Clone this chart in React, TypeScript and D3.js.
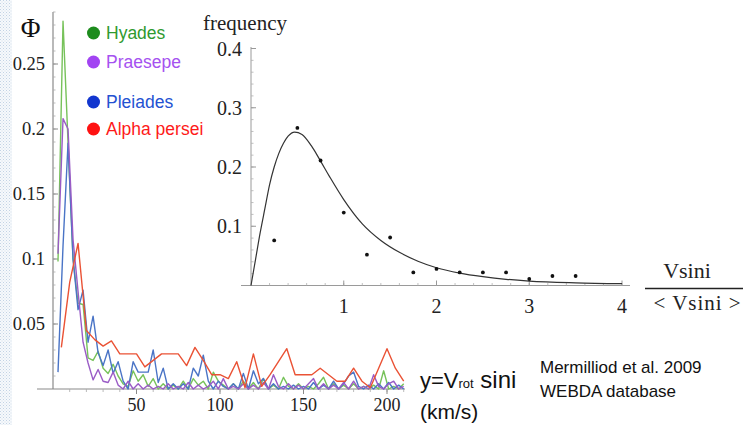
import React from "react";
import * as d3 from "d3";

// ---------- Main chart data (Φ vs v sin i, km/s) ----------
const BIN3_STEP = 3; // bin spacing for Hyades / Praesepe / Pleiades
const BIN5_STEP = 5; // bin spacing for Alpha persei

const hyades = [
  0.098, 0.283, 0.19, 0.1, 0.066, 0.065, 0.024, 0.022, 0.029, 0.016,
  0.012, 0.019, 0.01, 0.004, 0.002, 0.014, 0.006, 0.011, 0.002, 0.008,
  0.0, 0.004, 0.0, 0.003, 0.0, 0.006, 0.0, 0.008, 0.003, 0.006,
  0.0, 0.013, 0.006, 0.003, 0.0, 0.004, 0.0, 0.006, 0.0, 0.005,
  0.0, 0.008, 0.0, 0.003, 0.0, 0.009, 0.002, 0.0, 0.004, 0.0,
  0.002, 0.0, 0.004, 0.009, 0.0, 0.004, 0.0, 0.003, 0.0, 0.004,
  0.0, 0.002, 0.0, 0.003, 0.0, 0.014, 0.0, 0.002, 0.0, 0.004,
];
const praesepe = [
  0.104, 0.208, 0.2, 0.115, 0.075, 0.036, 0.02, 0.007, 0.015, 0.006,
  0.005, 0.013, 0.003, 0.0, 0.006, 0.0, 0.004, 0.0, 0.003, 0.0,
  0.002, 0.0, 0.004, 0.0, 0.002, 0.0, 0.005, 0.0, 0.003, 0.0,
  0.002, 0.006, 0.0, 0.008, 0.0, 0.002, 0.0, 0.004, 0.0, 0.003,
  0.0, 0.005, 0.0, 0.011, 0.002, 0.0, 0.004, 0.0, 0.003, 0.0,
  0.004, 0.008, 0.0, 0.004, 0.0, 0.003, 0.0, 0.005, 0.0, 0.006,
  0.0, 0.002, 0.0, 0.011, 0.002, 0.0, 0.004, 0.006, 0.0, 0.002,
];
const pleiades = [
  0.013, 0.11, 0.189, 0.1, 0.061, 0.076, 0.036, 0.056, 0.028, 0.018,
  0.03, 0.012, 0.021, 0.006, 0.0, 0.021, 0.013, 0.013, 0.013, 0.03,
  0.005, 0.016, 0.0, 0.004, 0.0, 0.004, 0.0, 0.016, 0.01, 0.026,
  0.006, 0.0, 0.006, 0.002, 0.0, 0.004, 0.0, 0.012, 0.0, 0.014,
  0.004, 0.008, 0.0, 0.004, 0.0, 0.002, 0.0, 0.003, 0.0, 0.002,
  0.0, 0.005, 0.0, 0.003, 0.0, 0.006, 0.0, 0.004, 0.01, 0.013,
  0.002, 0.0, 0.003, 0.0, 0.004, 0.0, 0.005, 0.0, 0.003, 0.0,
];
const alphaPersei = [
  0.032, 0.082, 0.112, 0.045, 0.038, 0.033, 0.037, 0.027, 0.027, 0.027,
  0.017, 0.022, 0.027, 0.027, 0.027, 0.018, 0.032, 0.022, 0.011, 0.011,
  0.008, 0.021, 0.001, 0.027, 0.002, 0.011, 0.021, 0.031, 0.011, 0.011,
  0.011, 0.016, 0.011, 0.006, 0.006, 0.016, 0.006, 0.001, 0.016, 0.031,
  0.016, 0.006,
];

const mainYTicks = [0.05, 0.1, 0.15, 0.2, 0.25];
const mainXTicks = [50, 100, 150, 200];

const legendNames = ["Hyades", "Praesepe", "Pleiades", "Alpha persei"];
const legendDotColors = ["#1d8c1d", "#a244f2", "#1236cf", "#fe1212"];
const legendTextColors = ["#2f9a2f", "#a552f0", "#2452d2", "#fe1a1a"];

// ---------- Inset data (frequency vs Vsini/<Vsini>) ----------
const insetDotX = [0.25, 0.5, 0.75, 1.0, 1.25, 1.5, 1.75, 2.0, 2.25, 2.5, 2.75, 3.0, 3.25, 3.5];
const insetDotY = [0.076, 0.266, 0.211, 0.123, 0.052, 0.081, 0.022, 0.028, 0.022, 0.022, 0.022, 0.011, 0.016, 0.016];
const curveX = [0, 0.05, 0.1, 0.15, 0.2, 0.25, 0.3, 0.35, 0.4, 0.47, 0.55, 0.65, 0.75, 0.85, 1.0, 1.2, 1.4, 1.6, 1.8, 2.0, 2.25, 2.5, 2.75, 3.0, 3.5, 4.0];
const curveY = [0, 0.045, 0.09, 0.13, 0.17, 0.2, 0.223, 0.24, 0.252, 0.259, 0.255, 0.236, 0.21, 0.183, 0.145, 0.104, 0.076, 0.056, 0.041, 0.03, 0.021, 0.015, 0.0105, 0.0075, 0.0045, 0.003];
const insetYTicks = [0.1, 0.2, 0.3, 0.4];
const insetXTicks = [1, 2, 3, 4];

export default function App() {
  const W = 754, H = 425;
  // main scales
  const x = d3.scaleLinear().domain([0, 200]).range([53, 387]);
  const y = d3.scaleLinear().domain([0, 0.25]).range([389, 64]);
  // inset scales
  const ix = d3.scaleLinear().domain([0, 4]).range([251, 622]);
  const iy = d3.scaleLinear().domain([0, 0.4]).range([285.5, 48.5]);

  const line = d3.line<[number, number]>().x((d) => x(d[0])).y((d) => y(d[1]));
  const mk3 = (arr: number[]) => arr.map((v, i) => [(i + 1) * BIN3_STEP, v] as [number, number]);
  const mk5 = (arr: number[]) => arr.map((v, i) => [(i + 1) * BIN5_STEP, v] as [number, number]);

  const series = [
    { data: mk3(hyades), color: "#77c25a" },
    { data: mk3(pleiades), color: "#4a74c6" },
    { data: mk3(praesepe), color: "#9a5cc6" },
    { data: mk5(alphaPersei), color: "#ea5235" },
  ];

  const mainMinorY = d3.range(0.01, 0.2901, 0.01);
  const mainMinorX = d3.range(10, 211, 10);
  const insetMinorY = d3.range(0.02, 0.401, 0.02);
  const insetMinorX = d3.range(0.2, 4.01, 0.2);

  const curveLine = d3
    .line<number>()
    .x((_, i) => ix(curveX[i]))
    .y((d) => iy(d))
    .curve(d3.curveMonotoneX);

  const axisColor = "#8a8a8a";
  const serif = "'Liberation Serif', 'DejaVu Serif', serif";
  const sans = "'Liberation Sans', Arial, sans-serif";

  return (
    <svg
      width={W}
      height={H}
      style={{ position: "absolute", left: 0, top: 0, background: "#fff" }}
    >
      <defs>
        <pattern id="chk" width="3" height="3" patternUnits="userSpaceOnUse">
          <rect width="3" height="3" fill="#f6f9fc" />
          <rect width="1" height="1" fill="#c3d3e4" />
          <rect x="1.5" y="1.5" width="1" height="1" fill="#d2dde9" />
        </pattern>
      </defs>
      <rect x={0} y={0} width={W} height={H} fill="#fff" />
      <rect x={0} y={0} width={12} height={H} fill="url(#chk)" />

      {/* ---------- Main axes ---------- */}
      <line x1={x(0)} x2={x(0)} y1={12} y2={y(0)} stroke={axisColor} strokeWidth={1.2} />
      <line x1={37} x2={405} y1={y(0)} y2={y(0)} stroke={axisColor} strokeWidth={1.2} />
      {mainMinorY.map((t, i) => (
        <line key={"my" + i} x1={x(0)} x2={x(0) + 2.5} y1={y(t)} y2={y(t)} stroke="#aaa" strokeWidth={0.8} />
      ))}
      {mainYTicks.map((t) => (
        <line key={"mY" + t} x1={x(0)} x2={x(0) + 5} y1={y(t)} y2={y(t)} stroke={axisColor} strokeWidth={1} />
      ))}
      {mainMinorX.map((t, i) => (
        <line key={"mx" + i} x1={x(t)} x2={x(t)} y1={y(0)} y2={y(0) + 3} stroke="#aaa" strokeWidth={0.8} />
      ))}
      {mainXTicks.map((t) => (
        <line key={"mX" + t} x1={x(t)} x2={x(t)} y1={y(0)} y2={y(0) + 5} stroke={axisColor} strokeWidth={1} />
      ))}
      {mainYTicks.map((t) => (
        <text key={"mYl" + t} x={45} y={y(t) + 6} textAnchor="end" fontFamily={serif} fontSize={18.5} fill="#222">
          {String(t)}
        </text>
      ))}
      {mainXTicks.map((t) => (
        <text key={"mXl" + t} x={x(t)} y={411} textAnchor="middle" fontFamily={serif} fontSize={18} fill="#222">
          {String(t)}
        </text>
      ))}
      <text x={30.5} y={37} textAnchor="middle" fontFamily={serif} fontSize={27} fill="#111">
        Φ
      </text>

      {/* series */}
      {series.map((s, i) => (
        <path key={"s" + i} d={line(s.data) || ""} fill="none" stroke={s.color} strokeWidth={1.4} strokeLinejoin="round" />
      ))}

      {/* legend */}
      {legendNames.map((n, i) => {
        const ly = [33, 62, 102, 129][i];
        return (
          <g key={"lg" + n}>
            <circle cx={93.5} cy={ly} r={6.5} fill={legendDotColors[i]} />
            <text x={106} y={ly + 6} fontFamily={sans} fontSize={17.5} fill={legendTextColors[i]}>
              {n}
            </text>
          </g>
        );
      })}

      {/* ---------- Inset ---------- */}
      <line x1={ix(0)} x2={ix(0)} y1={47} y2={iy(0)} stroke="#9a9a9a" strokeWidth={1} />
      <line x1={241} x2={630} y1={iy(0)} y2={iy(0)} stroke="#9a9a9a" strokeWidth={1} />
      {insetMinorY.map((t, i) => (
        <line key={"iy" + i} x1={ix(0)} x2={ix(0) + 2.5} y1={iy(t)} y2={iy(t)} stroke="#b0b0b0" strokeWidth={0.8} />
      ))}
      {insetYTicks.map((t) => (
        <line key={"iY" + t} x1={ix(0)} x2={ix(0) + 5} y1={iy(t)} y2={iy(t)} stroke="#999" strokeWidth={1} />
      ))}
      {insetMinorX.map((t, i) => (
        <line key={"ix" + i} x1={ix(t)} x2={ix(t)} y1={iy(0)} y2={iy(0) - 2.5} stroke="#b0b0b0" strokeWidth={0.8} />
      ))}
      {insetXTicks.map((t) => (
        <line key={"iX" + t} x1={ix(t)} x2={ix(t)} y1={iy(0)} y2={iy(0) - 5} stroke="#999" strokeWidth={1} />
      ))}
      {insetYTicks.map((t) => (
        <text key={"iYl" + t} x={242} y={iy(t) + 7} textAnchor="end" fontFamily={serif} fontSize={20} fill="#222">
          {String(t)}
        </text>
      ))}
      {insetXTicks.map((t) => (
        <text key={"iXl" + t} x={ix(t)} y={313} textAnchor="middle" fontFamily={serif} fontSize={20} fill="#222">
          {String(t)}
        </text>
      ))}
      <text x={203} y={30} fontFamily={serif} fontSize={21} fill="#222">
        frequency
      </text>
      <path d={curveLine(curveY) || ""} fill="none" stroke="#333" strokeWidth={1.2} />
      {insetDotX.map((d, i) => (
        <circle key={"dot" + i} cx={ix(d)} cy={iy(insetDotY[i])} r={1.9} fill="#111" />
      ))}

      {/* fraction label */}
      <text x={687} y={278} textAnchor="middle" fontFamily={serif} fontSize={22} fill="#222">
        Vsini
      </text>
      <line x1={645} x2={743} y1={288.5} y2={288.5} stroke="#222" strokeWidth={1.3} />
      <text x={697} y={310} textAnchor="middle" fontFamily={serif} fontSize={21} fill="#222" textLength={87} lengthAdjust="spacing">
        {"< Vsini >"}
      </text>

      {/* bottom-right annotations */}
      <text x={420} y={388} fontFamily={sans} fontSize={22} fill="#111">
        <tspan>y=V</tspan>
        <tspan fontSize={13}>rot</tspan>
        <tspan fontSize={24}> sini</tspan>
      </text>
      <text x={420} y={419} fontFamily={sans} fontSize={21} fill="#111">
        (km/s)
      </text>
      <text x={540} y={373} fontFamily={sans} fontSize={17} fill="#111">
        Mermilliod et al. 2009
      </text>
      <text x={540} y={397} fontFamily={sans} fontSize={17} fill="#111">
        WEBDA database
      </text>
    </svg>
  );
}
